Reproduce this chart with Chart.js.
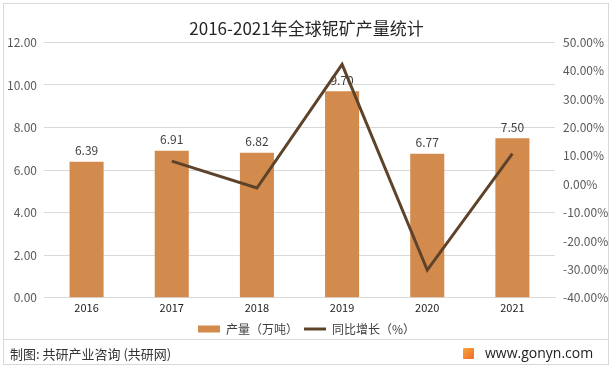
<!DOCTYPE html>
<html>
<head>
<meta charset="utf-8">
<script src="https://cdn.jsdelivr.net/npm/chart.js@4"></script>
<style>
  html, body { margin: 0; padding: 0; background: #fff; }
  #wrap { position: relative; width: 613px; height: 369px; overflow: hidden; font-family: "Noto Sans CJK SC", sans-serif; }
  #frame { position: absolute; left: 3px; top: 3px; width: 604px; height: 360px; border: 1px solid #d9d9d9; }
  #sep { position: absolute; left: 3px; top: 339px; width: 606px; height: 1px; background: #d9d9d9; }
  #chartBox { position: absolute; left: 0; top: 0; width: 613px; height: 345px; }
  #credit { position: absolute; left: 10px; top: 344px; font-size: 13px; color: #333; }
  #site { position: absolute; left: 463px; top: 343px; font-size: 14px; color: #222; font-family: "Open Sans", sans-serif; }
  #logo { display: inline-block; width: 11px; height: 11px; margin-right: 11px; vertical-align: -1px;
          background: linear-gradient(135deg, #f7a43c, #f06a2a); border-radius: 1px; }
</style>
</head>
<body>
<div id="wrap">
  <div id="frame"></div>
  <div id="sep"></div>
  <div id="chartBox"><canvas id="chart" width="613" height="345"></canvas></div>
  <div id="credit">制图: 共研产业咨询 (共研网)</div>
  <div id="site"><span id="logo"></span>www.gonyn.com</div>
</div>
<script>
const years = ["2016", "2017", "2018", "2019", "2020", "2021"];
const output = [6.39, 6.91, 6.82, 9.70, 6.77, 7.50];
const growth = [null, 8.14, -1.30, 42.23, -30.21, 10.78];

const barColor = "#d38b4d";
const lineColor = "#5e432b";
const fontFamily = "'Noto Sans CJK SC', sans-serif";

const barLabels = {
  id: "barLabels",
  afterDatasetDraw(chart, args) {
    if (args.index !== 0) return;
    const ctx = chart.ctx;
    ctx.save();
    ctx.font = "12px " + fontFamily;
    ctx.fillStyle = "#404040";
    ctx.textAlign = "center";
    ctx.textBaseline = "bottom";
    args.meta.data.forEach((bar, i) => {
      ctx.fillText(output[i].toFixed(2), bar.x, bar.y - 5);
    });
    ctx.restore();
  }
};

new Chart(document.getElementById("chart"), {
  type: "bar",
  data: {
    labels: years,
    datasets: [
      {
        type: "bar",
        label: "产量（万吨）",
        data: output,
        backgroundColor: barColor,
        categoryPercentage: 1,
        barPercentage: 0.4,
        yAxisID: "y",
        order: 1,
        pointStyle: "rect"
      },
      {
        type: "line",
        label: "同比增长（%）",
        data: growth,
        borderColor: lineColor,
        backgroundColor: lineColor,
        borderWidth: 3,
        pointRadius: 0,
        tension: 0,
        yAxisID: "y1",
        order: 0,
        pointStyle: "line"
      }
    ]
  },
  options: {
    responsive: false,
    animation: false,
    layout: { padding: { left: 0, right: 0, top: 0, bottom: 0 } },
    plugins: {
      title: {
        display: true,
        text: "2016-2021年全球铌矿产量统计",
        color: "#262626",
        font: { size: 17, family: fontFamily, weight: "normal" },
        padding: { top: 18, bottom: 4 }
      },
      legend: {
        position: "bottom",
        labels: {
          usePointStyle: true,
          pointStyleWidth: 22,
          boxHeight: 7,
          padding: 6,
          color: "#404040",
          font: { size: 12, family: fontFamily },
          sort: (a, b) => a.datasetIndex - b.datasetIndex
        }
      },
      tooltip: { enabled: false }
    },
    scales: {
      x: {
        grid: { display: false, drawTicks: false },
        border: { color: "#d9d9d9" },
        ticks: { color: "#222", font: { size: 11, family: fontFamily }, padding: 3 }
      },
      y: {
        position: "left",
        min: 0,
        max: 12,
        ticks: {
          stepSize: 2,
          color: "#595959",
          font: { size: 12, family: fontFamily },
          padding: 7,
          callback: (v) => v.toFixed(2)
        },
        grid: { color: "#d9d9d9", drawTicks: false },
        border: { display: false },
        afterFit: (s) => { s.width = 44; }
      },
      y1: {
        position: "right",
        min: -40,
        max: 50,
        ticks: {
          stepSize: 10,
          color: "#595959",
          font: { size: 12, family: fontFamily },
          padding: 8,
          callback: (v) => v.toFixed(2) + "%"
        },
        grid: { display: false, drawTicks: false },
        border: { display: false },
        afterFit: (s) => { s.width = 58; }
      }
    }
  },
  plugins: [barLabels]
});
</script>
</body>
</html>
